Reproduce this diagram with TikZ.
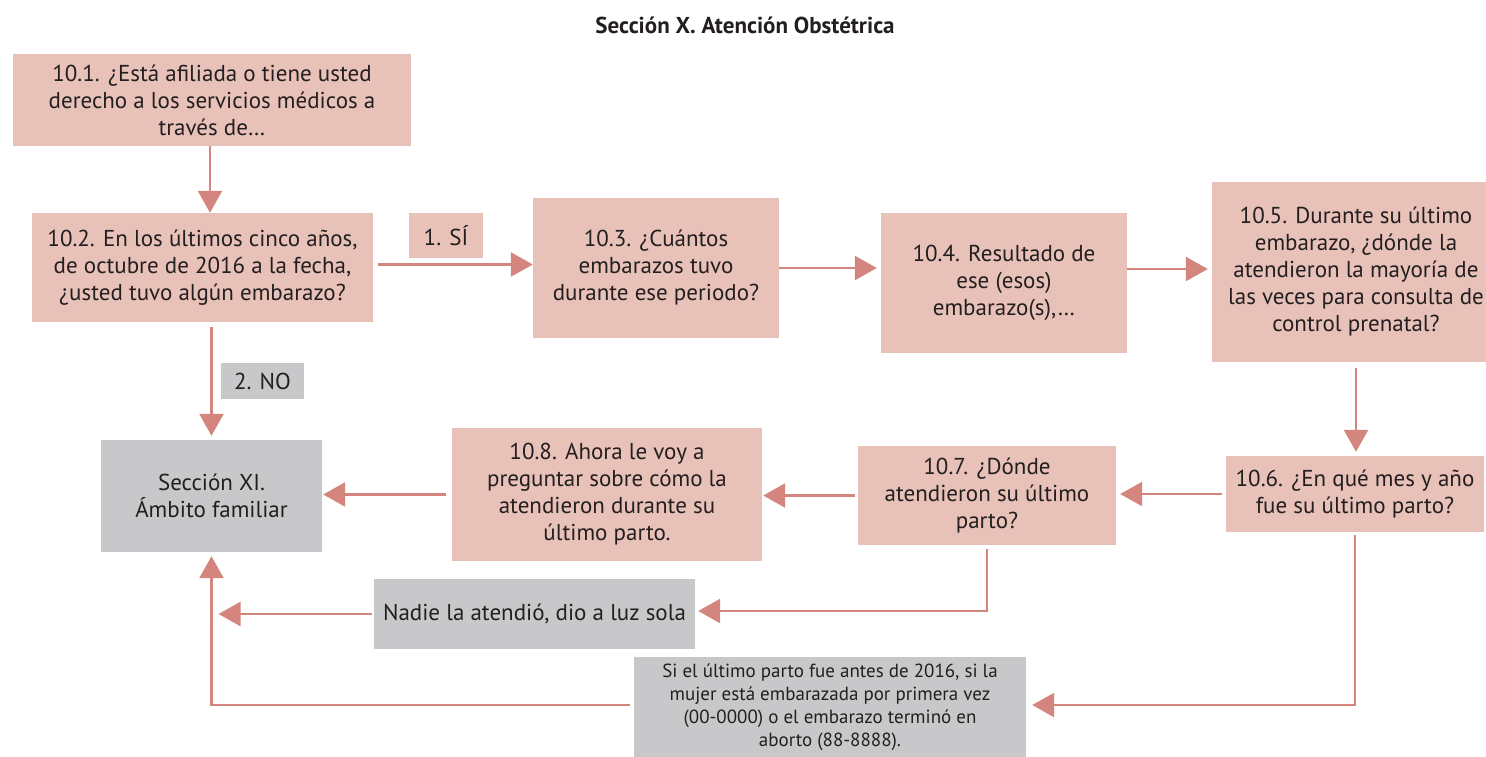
\documentclass[tikz,border=0pt]{standalone}
\usepackage{fontspec}
\setmainfont{PT Sans}
\usetikzlibrary{arrows.meta,positioning,calc}
\definecolor{rosa}{HTML}{E8C2B8}
\definecolor{gris}{HTML}{C8C8CA}
\definecolor{flecha}{HTML}{D4857E}
\definecolor{texto}{HTML}{231F20}

\begin{document}
\begin{tikzpicture}[x=1pt, y=-1pt, font=\fontsize{23}{27}\selectfont, text=texto,
		qbox/.style={rectangle, fill=rosa, align=center, inner sep=0pt},
		gbox/.style={rectangle, fill=gris, align=center, inner sep=0pt},
		arrow/.style={-{Triangle[width=24pt,length=22pt]}, draw=flecha, line width=2.5pt}]

		\useasboundingbox (0,0) rectangle (1486,756);

		\node [font=\fontsize{23}{26}\selectfont\bfseries] (title) at (745,25) {Sección X. Atención Obstétrica};

		\node [qbox, minimum width=398pt, minimum height=92pt] (q101) at (212,100) {10.1. ¿Está afiliada o tiene usted\\derecho a los servicios médicos a\\través de…};
		\node [qbox, minimum width=341pt, minimum height=109pt] (q102) at (202.5,267.5) {10.2. En los últimos cinco años,\\de octubre de 2016 a la fecha,\\¿usted tuvo algún embarazo?};
		\node [qbox, minimum width=74pt, minimum height=45pt] (si) at (446,235.5) {1. SÍ};
		\node [qbox, minimum width=246pt, minimum height=140pt] (q103) at (656,268) {10.3. ¿Cuántos\\embarazos tuvo\\durante ese periodo?};
		\node [qbox, minimum width=246pt, minimum height=140pt] (q104) at (1004,283) {10.4. Resultado de\\ese (esos)\\embarazo(s),…};
		\node [qbox, minimum width=288pt, minimum height=180pt] (q105) at (1356,272) {10.5. Durante su último\\embarazo, ¿dónde la\\atendieron la mayoría de\\las veces para consulta de\\control prenatal?};
		\node [gbox, minimum width=83pt, minimum height=36pt] (no) at (262.5,381) {2. NO};
		\node [gbox, minimum width=221pt, minimum height=112pt] (secxi) at (211.5,496) {Sección XI.\\Ámbito familiar};
		\node [qbox, minimum width=310pt, minimum height=133pt] (q108) at (607,494.5) {10.8. Ahora le voy a\\preguntar sobre cómo la\\atendieron durante su\\último parto.};
		\node [qbox, minimum width=258pt, minimum height=99pt] (q107) at (987,495.5) {10.7. ¿Dónde\\atendieron su último\\parto?};
		\node [qbox, minimum width=258pt, minimum height=76pt] (q106) at (1355,494) {10.6. ¿En qué mes y año\\fue su último parto?};
		\node [gbox, minimum width=321pt, minimum height=70pt] (nadie) at (534.5,614) {Nadie la atendió, dio a luz sola};
		\node [gbox, minimum width=392pt, minimum height=102pt, font=\fontsize{19}{23}\selectfont] (ultimo) at (830,707.5) {Si el último parto fue antes de 2016, si la\\mujer está embarazada por primera vez\\(00-0000) o el embarazo terminó en\\aborto (88-8888).};

		\coordinate (junta) at (secxi.south |- nadie.west);

		\draw [arrow] ([xshift=-2pt]q101.south) -- ([xshift=-2pt]q101.south |- q102.north);
		\draw [arrow, shorten <=5pt] ([yshift=3pt]q102.east) -- ([yshift=3pt]q102.east -| q103.west);
		\draw [arrow, shorten >=4pt] (q103.east) -- (q103.east -| q104.west);
		\draw [arrow, shorten >=4pt] ([yshift=-1pt]q104.east |- q103.east) -- ([yshift=-1pt]q105.west |- q103.east);
		\draw [arrow, shorten <=6pt, shorten >=4pt] (q105.south) -- (q105.south |- q106.north);
		\draw [arrow, shorten <=4pt, shorten >=4pt] (q106.west) -- (q106.west -| q107.east);
		\draw [arrow, shorten <=3pt, shorten >=1pt] (q107.west) -- (q107.west -| q108.east);
		\draw [arrow, shorten <=6pt, shorten >=1pt] (q108.west) -- (q108.west -| secxi.east);
		\draw [arrow, shorten <=5pt, shorten >=4pt] (q102.south -| secxi.north) -- (secxi.north);
		\draw [arrow, shorten <=4pt, shorten >=3pt] (q107.south) |- ([yshift=3pt]nadie.east);
		\draw [arrow, shorten <=2pt, shorten >=7pt] (nadie.west) -- (junta);
		\draw [arrow, shorten <=3pt, shorten >=6pt] (q106.south) |- ([yshift=2.5pt]ultimo.east);
		\draw [arrow, shorten <=4pt, shorten >=4pt] ([yshift=2.5pt]ultimo.west) -| (secxi.south);

	\end{tikzpicture}
\end{document}
